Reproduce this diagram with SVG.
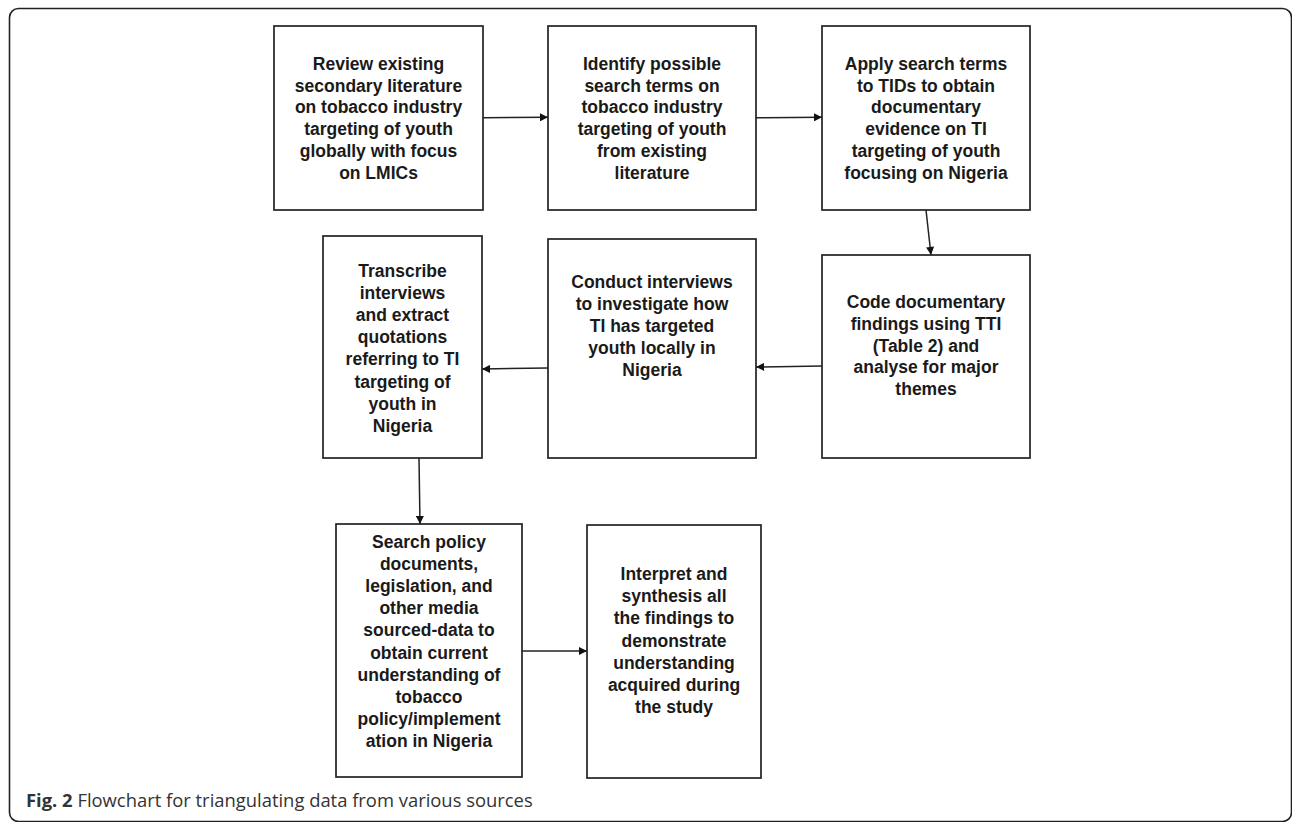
<svg xmlns="http://www.w3.org/2000/svg" width="1292" height="822" viewBox="0 0 1292 822">
<style>
.frame{fill:none;stroke:#222;stroke-width:1.6}
.box{fill:#fff;stroke:#222;stroke-width:1.7}
.t{font-family:"Liberation Sans",Arial,sans-serif;font-weight:bold;font-size:17.5px;fill:#1a1a1a;text-anchor:middle}
.c{stroke:#222;stroke-width:1.5;fill:none;marker-end:url(#ah)}
.cap{font-family:"Open Sans","Noto Sans",sans-serif;font-size:18.4px;fill:#333}
</style>
<defs>
<marker id="ah" viewBox="0 0 10 10" refX="10" refY="5" markerWidth="9" markerHeight="8" markerUnits="userSpaceOnUse" orient="auto">
<path d="M0,0 L10,5 L0,10 z" fill="#111"/>
</marker>
</defs>
<rect class="frame" x="9.5" y="8.5" width="1282" height="813" rx="9"/>

<g id="n1"><rect class="box" x="274" y="26" width="209" height="184"/>
<text class="t"><tspan x="378.5" y="70">Review existing</tspan><tspan x="378.5" y="91.7">secondary literature</tspan><tspan x="378.5" y="113.4">on tobacco industry</tspan><tspan x="378.5" y="135.1">targeting of youth</tspan><tspan x="378.5" y="156.8">globally with focus</tspan><tspan x="378.5" y="178.5">on LMICs</tspan></text></g>

<g id="n2"><rect class="box" x="548" y="26" width="208" height="184"/>
<text class="t"><tspan x="652" y="70">Identify possible</tspan><tspan x="652" y="91.7">search terms on</tspan><tspan x="652" y="113.4">tobacco industry</tspan><tspan x="652" y="135.1">targeting of youth</tspan><tspan x="652" y="156.8">from existing</tspan><tspan x="652" y="178.5">literature</tspan></text></g>

<g id="n3"><rect class="box" x="822" y="26" width="208" height="184"/>
<text class="t"><tspan x="926" y="70">Apply search terms</tspan><tspan x="926" y="91.7">to TIDs to obtain</tspan><tspan x="926" y="113.4">documentary</tspan><tspan x="926" y="135.1">evidence on TI</tspan><tspan x="926" y="156.8">targeting of youth</tspan><tspan x="926" y="178.5">focusing on Nigeria</tspan></text></g>

<g id="n4"><rect class="box" x="822" y="255" width="208" height="203"/>
<text class="t"><tspan x="926" y="308">Code documentary</tspan><tspan x="926" y="329.8">findings using TTI</tspan><tspan x="926" y="351.6">(Table 2) and</tspan><tspan x="926" y="373.4">analyse for major</tspan><tspan x="926" y="395.2">themes</tspan></text></g>

<g id="n5"><rect class="box" x="548" y="239" width="208" height="219"/>
<text class="t"><tspan x="652" y="288">Conduct interviews</tspan><tspan x="652" y="310.1">to investigate how</tspan><tspan x="652" y="332.2">TI has targeted</tspan><tspan x="652" y="354.3">youth locally in</tspan><tspan x="652" y="376.4">Nigeria</tspan></text></g>

<g id="n6"><rect class="box" x="323" y="236" width="159" height="222"/>
<text class="t"><tspan x="402.5" y="277">Transcribe</tspan><tspan x="402.5" y="299.1">interviews</tspan><tspan x="402.5" y="321.2">and extract</tspan><tspan x="402.5" y="343.3">quotations</tspan><tspan x="402.5" y="365.4">referring to TI</tspan><tspan x="402.5" y="387.5">targeting of</tspan><tspan x="402.5" y="409.6">youth in</tspan><tspan x="402.5" y="431.7">Nigeria</tspan></text></g>

<g id="n7"><rect class="box" x="336" y="524" width="186" height="253"/>
<text class="t"><tspan x="429" y="548">Search policy</tspan><tspan x="429" y="570.1">documents,</tspan><tspan x="429" y="592.2">legislation, and</tspan><tspan x="429" y="614.3">other media</tspan><tspan x="429" y="636.4">sourced-data to</tspan><tspan x="429" y="658.5">obtain current</tspan><tspan x="429" y="680.6">understanding of</tspan><tspan x="429" y="702.7">tobacco</tspan><tspan x="429" y="724.8">policy/implement</tspan><tspan x="429" y="746.9">ation in Nigeria</tspan></text></g>

<g id="n8"><rect class="box" x="587" y="525" width="174" height="253"/>
<text class="t"><tspan x="674" y="580">Interpret and</tspan><tspan x="674" y="602.2">synthesis all</tspan><tspan x="674" y="624.4">the findings to</tspan><tspan x="674" y="646.6">demonstrate</tspan><tspan x="674" y="668.8">understanding</tspan><tspan x="674" y="691">acquired during</tspan><tspan x="674" y="713.2">the study</tspan></text></g>

<g id="connectors">
<line class="c" x1="483" y1="117.7" x2="548" y2="117.3"/>
<line class="c" x1="756" y1="117.7" x2="822" y2="117.3"/>
<line class="c" x1="926" y1="210" x2="931" y2="255"/>
<line class="c" x1="822" y1="366" x2="756" y2="367"/>
<line class="c" x1="548" y1="368" x2="482" y2="369"/>
<line class="c" x1="419" y1="458" x2="420" y2="524"/>
<line class="c" x1="522" y1="651" x2="587" y2="651"/>
</g>

<text class="cap" x="26" y="807"><tspan font-weight="bold">Fig. 2</tspan> Flowchart for triangulating data from various sources</text>
</svg>
